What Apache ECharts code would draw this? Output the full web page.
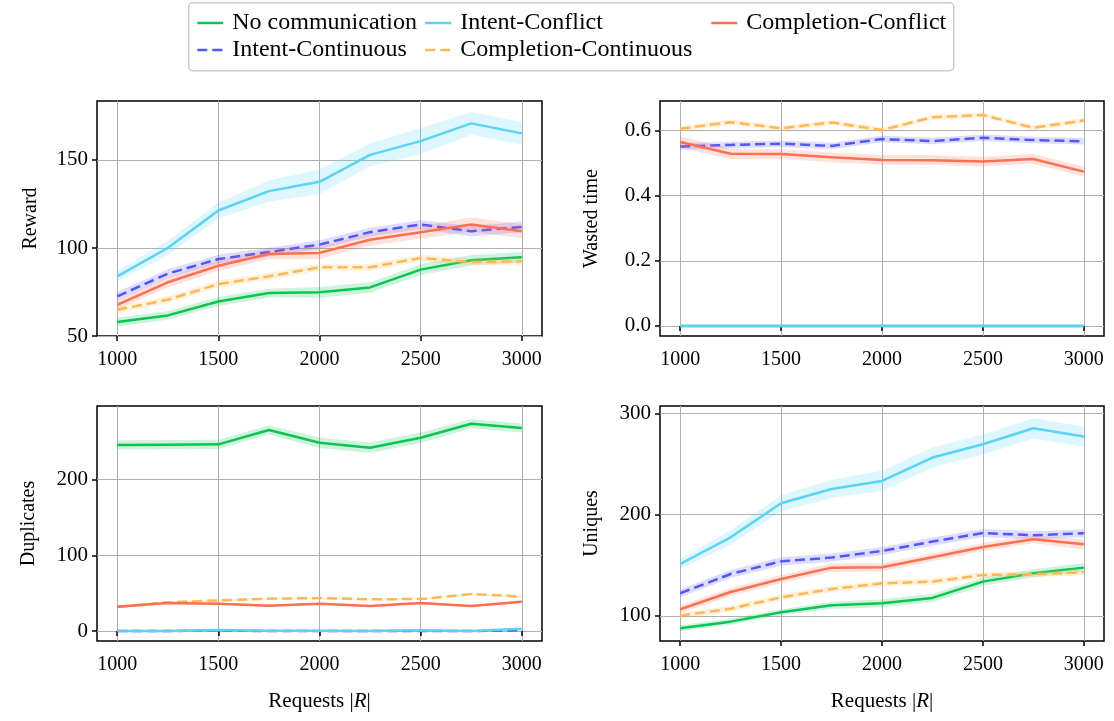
<!DOCTYPE html>
<html>
<head>
<meta charset="utf-8">
<script src="https://cdn.jsdelivr.net/npm/echarts@6/dist/echarts.min.js"></script>
<style>html,body{margin:0;padding:0;background:#fff;}#c{width:1114px;height:721px;}</style>
</head>
<body>
<div id="c"></div>
<script>
// ---------- data ----------
const requests = [1000, 1250, 1500, 1750, 2000, 2250, 2500, 2750, 3000];
const methods = ['No communication', 'Intent-Continuous', 'Intent-Conflict', 'Completion-Continuous', 'Completion-Conflict'];

// Reward
const rewardNoComm   = [57.9, 61.7, 69.6, 74.4, 74.8, 77.6, 87.7, 93.0, 94.7];
const rewardIntCont  = [72.5, 85.4, 93.7, 97.7, 101.9, 109.0, 113.3, 109.5, 112.0];
const rewardIntConf  = [83.9, 100.0, 121.3, 132.3, 137.6, 152.9, 160.7, 170.8, 165.1];
const rewardCompCont = [64.9, 70.6, 79.5, 83.9, 89.0, 89.0, 94.3, 92.0, 92.4];
const rewardCompConf = [67.7, 80.5, 89.9, 96.6, 97.2, 104.7, 108.9, 113.3, 109.5];
const rewardNoCommSd   = [2.5, 2.5, 2.5, 2.5, 3, 3, 3, 3, 3];
const rewardIntContSd  = [2.5, 2.5, 2.5, 2.5, 2.5, 2.5, 2.5, 3, 3];
const rewardIntConfSd  = [3, 4, 4.5, 6, 7, 6.5, 7.5, 6.5, 6.5];
const rewardCompContSd = [2, 2, 2, 2, 2, 2, 2, 2, 2];
const rewardCompConfSd = [2.5, 3, 3, 3, 3.5, 3.5, 3.5, 4, 4];

// Wasted time
const wasteNoComm   = [0, 0, 0, 0, 0, 0, 0, 0, 0];
const wasteIntCont  = [0.551, 0.556, 0.560, 0.553, 0.574, 0.568, 0.578, 0.571, 0.567];
const wasteIntConf  = [0, 0, 0, 0, 0, 0, 0, 0, 0];
const wasteCompCont = [0.606, 0.626, 0.607, 0.625, 0.602, 0.641, 0.648, 0.609, 0.631];
const wasteCompConf = [0.565, 0.529, 0.528, 0.518, 0.510, 0.509, 0.505, 0.513, 0.474];
const wasteNoCommSd   = [0, 0, 0, 0, 0, 0, 0, 0, 0];
const wasteIntContSd  = [0.01, 0.01, 0.01, 0.01, 0.01, 0.01, 0.01, 0.01, 0.01];
const wasteIntConfSd  = [0, 0, 0, 0, 0, 0, 0, 0, 0];
const wasteCompContSd = [0.008, 0.008, 0.008, 0.008, 0.008, 0.008, 0.008, 0.008, 0.008];
const wasteCompConfSd = [0.018, 0.016, 0.015, 0.015, 0.015, 0.015, 0.015, 0.015, 0.016];

// Duplicates
const dupNoComm   = [245.8, 246.3, 246.7, 265.6, 248.9, 242.3, 255.5, 274.0, 268.3];
const dupIntCont  = [0, 0, 0.5, 0, 0, 0, 0, 0, 1];
const dupIntConf  = [0, 0, 1.5, 0.5, 0.5, 0, 1, 0, 3];
const dupCompCont = [32.0, 37.9, 40.5, 42.7, 43.6, 41.9, 42.3, 48.9, 45.4];
const dupCompConf = [32.2, 37.0, 36.1, 33.5, 36.1, 33.0, 37.0, 33.0, 38.8];
const dupNoCommSd   = [6, 6, 6, 6, 7, 7, 7, 6, 6];
const dupIntContSd  = [0.5, 0.5, 0.5, 0.5, 0.5, 0.5, 0.5, 0.5, 0.5];
const dupIntConfSd  = [0.8, 0.8, 1, 0.8, 0.8, 0.8, 0.8, 0.8, 1];
const dupCompContSd = [1.5, 1.5, 1.5, 1.5, 1.5, 1.5, 1.5, 1.5, 1.5];
const dupCompConfSd = [1.5, 1.5, 1.5, 1.5, 1.5, 1.5, 1.5, 1.5, 1.5];

// Uniques
const uniqNoComm   = [87.8, 94.4, 103.6, 110.5, 112.5, 117.8, 133.9, 142.1, 147.7];
const uniqIntCont  = [122.4, 141.4, 153.9, 157.6, 164.1, 173.4, 181.9, 179.6, 181.6];
const uniqIntConf  = [151.3, 177.6, 211.2, 225.3, 233.2, 256.3, 269.4, 285.2, 277.0];
const uniqCompCont = [100.3, 107.2, 118.4, 126.6, 132.2, 133.9, 140.5, 141.1, 143.1];
const uniqCompConf = [106.6, 123.7, 136.5, 147.7, 148.0, 157.9, 168.1, 175.7, 170.7];
const uniqNoCommSd   = [3, 3, 3, 3.5, 4, 4, 4, 4, 4.5];
const uniqIntContSd  = [4, 4, 4, 4, 4, 4, 4, 4, 4];
const uniqIntConfSd  = [5, 7, 8, 9, 10, 10, 10, 10, 10];
const uniqCompContSd = [3, 3, 3, 3, 3, 3, 3, 3, 3];
const uniqCompConfSd = [4, 4, 4, 4, 4, 4, 4, 4, 5];

// tick labels
const xTicks = [1000, 1500, 2000, 2500, 3000];
const rewardTicks = [50, 100, 150];
const wasteTicks = [0, 0.2, 0.4, 0.6];
const dupTicks = [0, 100, 200];
const uniqTicks = [100, 200, 300];
const yNames = ['Reward', 'Wasted time', 'Duplicates', 'Uniques'];

// ---------- styling ----------
const FONT = 'Liberation Serif';
const colors = ['#0cc454', '#5555ff', '#58d4f7', '#ffb950', '#ff6f51'];
const dashed = [false, true, false, true, false];

const panels = [
  { means: [rewardNoComm, rewardIntCont, rewardIntConf, rewardCompCont, rewardCompConf],
    sds: [rewardNoCommSd, rewardIntContSd, rewardIntConfSd, rewardCompContSd, rewardCompConfSd],
    ticks: rewardTicks, min: 50, max: 183.5, fmt: v => String(v), nameGap: 56 },
  { means: [wasteNoComm, wasteIntCont, wasteIntConf, wasteCompCont, wasteCompConf],
    sds: [wasteNoCommSd, wasteIntContSd, wasteIntConfSd, wasteCompContSd, wasteCompConfSd],
    ticks: wasteTicks, min: -0.031, max: 0.691, fmt: v => v.toFixed(1), nameGap: 58 },
  { means: [dupNoComm, dupIntCont, dupIntConf, dupCompCont, dupCompConf],
    sds: [dupNoCommSd, dupIntContSd, dupIntConfSd, dupCompContSd, dupCompConfSd],
    ticks: dupTicks, min: -13.2, max: 297.4, fmt: v => String(v), nameGap: 58 },
  { means: [uniqNoComm, uniqIntCont, uniqIntConf, uniqCompCont, uniqCompConf],
    sds: [uniqNoCommSd, uniqIntContSd, uniqIntConfSd, uniqCompContSd, uniqCompConfSd],
    ticks: uniqTicks, min: 75.3, max: 307.2, fmt: v => String(v), nameGap: 58 }
];

const grids = [
  { left: 97, top: 101, width: 445, height: 235 },
  { left: 660, top: 101, width: 444, height: 235 },
  { left: 97, top: 406, width: 445, height: 235 },
  { left: 660, top: 406, width: 444, height: 235 }
];

const textBase = { fontFamily: FONT, fontSize: 20, color: '#000' };

const option = {
  animation: false,
  backgroundColor: '#fff',
  graphic: [{
    type: 'rect', left: 188, top: 2, z: -1,
    shape: { width: 765, height: 68, r: 4 },
    style: { fill: '#fff', stroke: '#cccccc', lineWidth: 1.5 }
  }],
  legend: [
    { data: [methods[0], methods[1]], left: 191, top: 6 },
    { data: [methods[2], methods[3]], left: 419, top: 6 },
    { data: [methods[4]], left: 705, top: 6 }
  ].map(l => Object.assign(l, {
    orient: 'vertical',
    itemWidth: 26, itemHeight: 14, itemGap: 3,
    itemStyle: { opacity: 0 },
    lineStyle: { width: 2.5 },
    textStyle: { fontFamily: FONT, fontSize: 24, color: '#000', padding: [0, 0, 0, 4] }
  })),
  grid: grids.map(g => Object.assign({ show: true, borderColor: '#000', borderWidth: 1.5, backgroundColor: 'transparent', containLabel: false }, g)),
  xAxis: grids.map((g, i) => ({
    type: 'value', gridIndex: i, min: 900, max: 3100,
    name: i >= 2 ? 'Requests |{i|R}|' : '',
    nameLocation: 'middle', nameGap: 50,
    nameTextStyle: Object.assign({}, textBase, { fontSize: 21, rich: { i: { fontFamily: FONT, fontSize: 21, fontStyle: 'italic' } } }),
    axisLine: { show: false },
    axisTick: { show: true, customValues: xTicks, length: 5, lineStyle: { color: '#000', width: 1.5 } },
    axisLabel: Object.assign({ customValues: xTicks, margin: 14, formatter: v => String(v) }, textBase),
    splitLine: { show: true, customValues: xTicks, lineStyle: { color: '#b0b0b0', width: 1 } }
  })),
  yAxis: panels.map((p, i) => ({
    type: 'value', gridIndex: i, min: p.min, max: p.max,
    name: yNames[i], nameLocation: 'middle', nameGap: p.nameGap, nameRotate: 90,
    nameTextStyle: Object.assign({}, textBase),
    axisLine: { show: false },
    axisTick: { show: true, customValues: p.ticks, length: 5, lineStyle: { color: '#000', width: 1.5 } },
    axisLabel: Object.assign({ customValues: p.ticks, margin: 9, formatter: p.fmt }, textBase, { fontSize: 21 }),
    splitLine: { show: true, customValues: p.ticks, lineStyle: { color: '#b0b0b0', width: 1 } }
  })),
  series: []
};

function bandSeries(pi, mi, lo, hi) {
  return {
    type: 'custom', name: methods[mi] + ' band', xAxisIndex: pi, yAxisIndex: pi,
    silent: true, z: 2 + mi * 2, clip: true,
    data: requests.map((x, k) => [x, lo[k], hi[k]]),
    encode: { x: 0, y: [1, 2] },
    renderItem: (params, api) => {
      if (params.dataIndex !== 0) return null;
      const pts = [];
      for (let k = 0; k < requests.length; k++) pts.push(api.coord([requests[k], hi[k]]));
      for (let k = requests.length - 1; k >= 0; k--) pts.push(api.coord([requests[k], lo[k]]));
      return { type: 'polygon', shape: { points: pts }, style: { fill: colors[mi], opacity: 0.2 } };
    }
  };
}

panels.forEach((p, pi) => {
  methods.forEach((m, mi) => {
    const mean = p.means[mi], sd = p.sds[mi];
    const lo = mean.map((v, k) => v - sd[k]);
    const hi = mean.map((v, k) => v + sd[k]);
    option.series.push(bandSeries(pi, mi, lo, hi));
    option.series.push({
      type: 'line', name: m, xAxisIndex: pi, yAxisIndex: pi,
      symbol: 'none', showSymbol: false,
      itemStyle: { color: colors[mi] },
      lineStyle: { color: colors[mi], width: 2.5, type: dashed[mi] ? [10, 5] : 'solid' },
      data: requests.map((x, k) => [x, mean[k]]), z: 3 + mi * 2
    });
  });
});

const chart = echarts.init(document.getElementById('c'), null, { renderer: 'canvas' });
chart.setOption(option);
</script>
</body>
</html>
